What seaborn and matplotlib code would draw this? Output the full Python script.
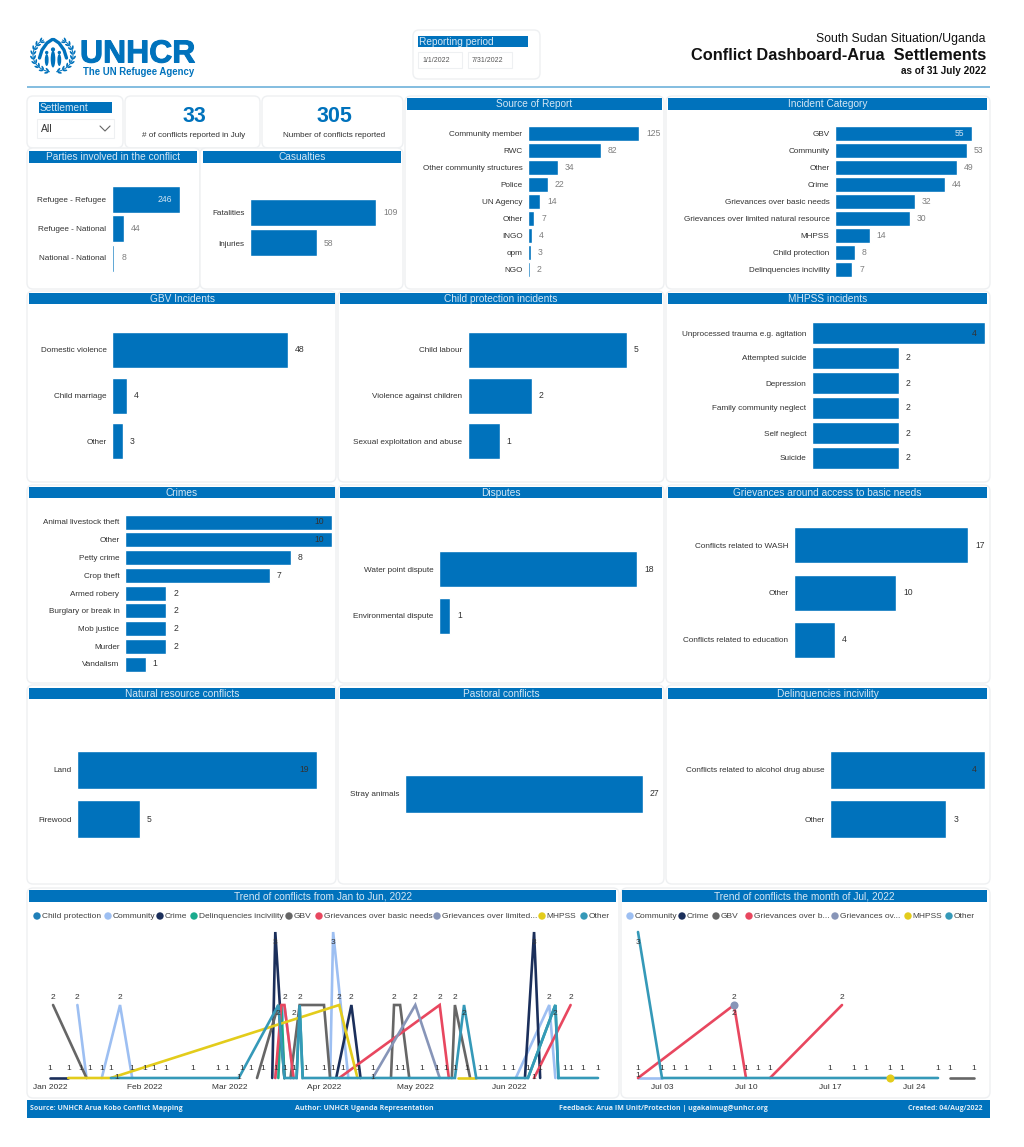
"""
plot.py
Conflict dashboard for the Arua settlements, drawn on one pixel-sized figure.
"""

import matplotlib
matplotlib.use("Agg")
import matplotlib.dates as mdates
import matplotlib.patheffects as pe
import matplotlib.pyplot as plt
import numpy as np
import pandas as pd
import seaborn as sns
from matplotlib.patches import Circle, Ellipse, FancyBboxPatch, Rectangle

sns.set_style("white")
plt.rcParams["font.family"] = ["Liberation Sans", "DejaVu Sans"]

W, H = 1024, 1147
BLUE = "#0072BC"
GREY_LABEL = "#7f7f7f"
DARK_LABEL = "#333333"
CARD_EDGE = "#eef0f2"

# bar panels
party_labels = ["Refugee - Refugee", "Refugee - National", "National - National"]
party_values = [246, 44, 8]
casualty_labels = ["Fatalities", "Injuries"]
casualty_values = [109, 58]
source_labels = ["Community member", "RWC", "Other community structures", "Police", "UN Agency",
                 "Other", "INGO", "opm", "NGO"]
source_values = [125, 82, 34, 22, 14, 7, 4, 3, 2]
incident_labels = ["GBV", "Community", "Other", "Crime", "Grievances over basic needs",
                   "Grievances over limited natural resource", "MHPSS", "Child protection",
                   "Delinquencies incivility"]
incident_values = [55, 53, 49, 44, 32, 30, 14, 8, 7]
gbv_labels = ["Domestic violence", "Child marriage", "Other"]
gbv_values = [48, 4, 3]
child_labels = ["Child labour", "Violence against children", "Sexual exploitation and abuse"]
child_values = [5, 2, 1]
mhpss_labels = ["Unprocessed trauma e.g. agitation", "Attempted suicide", "Depression",
                "Family community neglect", "Self neglect", "Suicide"]
mhpss_values = [4, 2, 2, 2, 2, 2]
crime_labels = ["Animal livestock theft", "Other", "Petty crime", "Crop theft", "Armed robery",
                "Burglary or break in", "Mob justice", "Murder", "Vandalism"]
crime_values = [10, 10, 8, 7, 2, 2, 2, 2, 1]
dispute_labels = ["Water point dispute", "Environmental dispute"]
dispute_values = [18, 1]
grievance_labels = ["Conflicts related to WASH", "Other", "Conflicts related to education"]
grievance_values = [17, 10, 4]
natural_labels = ["Land", "Firewood"]
natural_values = [19, 5]
pastoral_labels = ["Stray animals"]
pastoral_values = [27]
delinquency_labels = ["Conflicts related to alcohol drug abuse", "Other"]
delinquency_values = [4, 3]

# trend Jan-Jun, None breaks a line
h1_community = [("2022-01-10", 2), ("2022-01-13", 1), None,
                ("2022-01-18", 1), ("2022-01-24", 2), ("2022-01-28", 1), None,
                ("2022-03-16", 1), ("2022-03-19", 2), ("2022-03-22", 1), None,
                ("2022-04-03", 1), ("2022-04-04", 3), ("2022-04-09", 1), None,
                ("2022-06-03", 1), ("2022-06-14", 2), ("2022-06-16", 1)]
h1_crime = [("2022-01-01", 1), ("2022-01-07", 1), None,
            ("2022-03-15", 1), ("2022-03-16", 3), ("2022-03-19", 1), None,
            ("2022-04-05", 1), ("2022-04-10", 2), ("2022-04-13", 1), None,
            ("2022-06-06", 1), ("2022-06-09", 3), ("2022-06-11", 1)]
h1_delinquency = [("2022-03-17", 1), ("2022-03-18", 2), ("2022-03-19", 1), None,
                  ("2022-03-23", 1), ("2022-03-24", 2), ("2022-03-25", 1), None,
                  ("2022-06-07", 1), ("2022-06-16", 2), ("2022-06-17", 1)]
h1_gbv = [("2022-01-02", 2), ("2022-01-13", 1), None,
          ("2022-03-10", 1), ("2022-03-17", 2), ("2022-03-19", 1), None,
          ("2022-03-21", 1), ("2022-03-24", 2), ("2022-04-01", 2), ("2022-04-03", 1), None,
          ("2022-04-23", 1), ("2022-04-24", 2), ("2022-04-26", 2), ("2022-04-29", 1), None,
          ("2022-05-13", 1), ("2022-05-14", 2), ("2022-05-19", 1)]
h1_basic = [("2022-03-16", 1), ("2022-03-18", 2), ("2022-03-19", 2), ("2022-03-22", 1), None,
            ("2022-04-06", 1), ("2022-05-09", 2), ("2022-05-12", 1), None,
            ("2022-06-09", 1), ("2022-06-21", 2)]
h1_limited = [("2022-04-17", 1), ("2022-05-01", 2), ("2022-05-09", 1)]
h1_mhpss = [("2022-01-07", 1), ("2022-01-21", 1), ("2022-04-06", 2), ("2022-04-12", 1), None,
            ("2022-05-15", 1), ("2022-05-21", 1)]
h1_other = [("2022-01-21", 1), ("2022-03-04", 1), ("2022-03-17", 2), ("2022-03-19", 1),
            ("2022-03-23", 1), ("2022-03-24", 2), ("2022-03-25", 1), ("2022-05-14", 1),
            ("2022-05-17", 2), ("2022-05-21", 1), ("2022-06-07", 1), ("2022-06-16", 2),
            ("2022-06-17", 1), ("2022-06-30", 1)]
h1_one_dates = ["2022-01-01", "2022-01-07", "2022-01-11", "2022-01-14", "2022-01-18", "2022-01-21",
                "2022-01-28", "2022-02-01", "2022-02-04", "2022-02-08", "2022-02-17", "2022-02-25",
                "2022-02-28", "2022-03-05", "2022-03-08", "2022-03-12", "2022-03-16", "2022-03-19",
                "2022-03-22", "2022-03-26", "2022-04-01", "2022-04-04", "2022-04-07", "2022-04-12",
                "2022-04-17", "2022-04-25", "2022-04-27", "2022-05-03", "2022-05-08", "2022-05-11",
                "2022-05-14", "2022-05-18", "2022-05-22", "2022-05-24", "2022-05-30", "2022-06-02",
                "2022-06-07", "2022-06-11", "2022-06-19", "2022-06-21", "2022-06-25", "2022-06-30"]
h1_low_one_dates = ["2022-01-23", "2022-03-04", "2022-04-17", "2022-06-09"]
h1_two_dates = ["2022-01-02", "2022-01-10", "2022-01-24", "2022-03-19", "2022-03-24", "2022-04-06",
                "2022-04-10", "2022-04-24", "2022-05-01", "2022-05-09", "2022-05-14", "2022-06-14",
                "2022-06-21"]
h1_low_two_dates = ["2022-03-17", "2022-03-22", "2022-05-17", "2022-06-16"]
h1_three_dates = ["2022-03-16", "2022-04-04", "2022-06-09"]
h1_ticks = ["2022-01-01", "2022-02-01", "2022-03-01", "2022-04-01", "2022-05-01", "2022-06-01"]

# trend July
jul_community = [("2022-07-01", 1), ("2022-07-03", 1)]
jul_gbv = [("2022-07-27", 1), ("2022-07-29", 1)]
jul_basic = [("2022-07-01", 1), ("2022-07-09", 2), ("2022-07-10", 1), None,
             ("2022-07-12", 1), ("2022-07-18", 2)]
jul_other = [("2022-07-01", 3), ("2022-07-03", 1), ("2022-07-26", 1)]
jul_limited_point = [("2022-07-09", 2)]
jul_mhpss_point = [("2022-07-22", 1)]
jul_one_dates = ["2022-07-01", "2022-07-03", "2022-07-04", "2022-07-05", "2022-07-07", "2022-07-09",
                 "2022-07-10", "2022-07-11", "2022-07-12", "2022-07-17", "2022-07-19", "2022-07-20",
                 "2022-07-22", "2022-07-23", "2022-07-26", "2022-07-27", "2022-07-29"]
jul_low_one_dates = ["2022-07-01"]
jul_two_dates = ["2022-07-09", "2022-07-18"]
jul_low_two_dates = ["2022-07-09"]
jul_three_dates = ["2022-07-01"]
jul_ticks = ["2022-07-03", "2022-07-10", "2022-07-17", "2022-07-24"]

SERIES_COLORS = {
    "Child protection": "#1F7FB8",
    "Community": "#9DBFF2",
    "Crime": "#1B2F5B",
    "Delinquencies incivility": "#1AAB8E",
    "GBV": "#666666",
    "Grievances over basic needs": "#E8475F",
    "Grievances over limited natural resource": "#8795B8",
    "MHPSS": "#E3CC1B",
    "Other": "#3599B8",
}
h1_legend = ["Child protection", "Community", "Crime", "Delinquencies incivility", "GBV",
             "Grievances over basic needs", "Grievances over limited...", "MHPSS", "Other"]
h1_legend_keys = ["Child protection", "Community", "Crime", "Delinquencies incivility", "GBV",
                  "Grievances over basic needs", "Grievances over limited natural resource",
                  "MHPSS", "Other"]
h1_legend_x = [37, 108, 160, 194, 289, 319, 437, 542, 584]
jul_legend = ["Community", "Crime", "GBV", "Grievances over b...", "Grievances ov...", "MHPSS", "Other"]
jul_legend_keys = ["Community", "Crime", "GBV", "Grievances over basic needs",
                   "Grievances over limited natural resource", "MHPSS", "Other"]
jul_legend_x = [630, 682, 716, 749, 835, 908, 949]

fig = plt.figure(figsize=(W / 100, H / 100), dpi=100)
bg = fig.add_axes([0, 0, 1, 1], zorder=0)
bg.set_xlim(0, W)
bg.set_ylim(H, 0)
bg.axis("off")


def px_axes(x0, x1, y0, y1):
    ax = fig.add_axes([x0 / W, 1 - y1 / H, (x1 - x0) / W, (y1 - y0) / H], zorder=2)
    ax.patch.set_alpha(0)
    return ax


def card(x0, x1, y0, y1):
    bg.add_patch(FancyBboxPatch((x0 + 4, y0 + 4), x1 - x0 - 8, y1 - y0 - 8,
                                boxstyle="round,pad=4,rounding_size=6",
                                fc="white", ec=CARD_EDGE, lw=1, zorder=1))


def header(x0, x1, y0, y1, title, fontsize=7.3, center=True):
    bg.add_patch(Rectangle((x0, y0), x1 - x0, y1 - y0, fc=BLUE, ec="none", zorder=2))
    if center:
        bg.text((x0 + x1) / 2, (y0 + y1) / 2 + 0.3, title, color="#d5e7f4", fontsize=fontsize,
                ha="center", va="center", zorder=3)
    else:
        bg.text(x0 + 1, (y0 + y1) / 2 + 0.3, title, color="#d5e7f4", fontsize=fontsize,
                ha="left", va="center", zorder=3)


def bar_panel(labels, values, x0, x1, max_val, first, last, bar_h, inside=(), inside_color=DARK_LABEL,
              label_color=DARK_LABEL):
    """Horizontal bars; x0-x1 is the pixel run of max_val, first/last the row centres."""
    n = len(values)
    step = (last - first) / (n - 1) if n > 1 else bar_h * 1.2
    ax = px_axes(x0, x1, first - step / 2, last + step / 2)
    df = pd.DataFrame({"label": labels, "value": values})
    sns.barplot(data=df, x="value", y="label", color=BLUE, saturation=1, width=bar_h / step, ax=ax)
    ax.set_xlim(0, max_val)
    ax.set_ylim(n - 0.5, -0.5)
    ax.set_xlabel("")
    ax.set_ylabel("")
    ax.set_xticks([])
    ax.tick_params(axis="y", length=0, pad=4, labelsize=5.85, labelcolor="#333333")
    sns.despine(ax=ax, left=True, bottom=True)
    texts = ax.bar_label(ax.containers[0], padding=5, fontsize=6.2, color=label_color)
    for i in inside:
        texts[i].xyann = (-6, 0)
        texts[i].set_ha("right")
        texts[i].set_color(inside_color)
    return ax


def frame_from(points, name):
    rows = []
    seg = 0
    for p in points:
        if p is None:
            seg += 1
            continue
        rows.append({"series": name, "seg": f"{name}-{seg}", "date": pd.Timestamp(p[0]), "count": p[1]})
    return rows


def trend_panel(series, x0, x1, start, end, ticks, fmt):
    ax = px_axes(x0, x1, 932, 1078)
    rows = []
    for name, points in series:
        rows.extend(frame_from(points, name))
    df = pd.DataFrame(rows)
    for name, _ in series:
        sub = df[df["series"] == name]
        sns.lineplot(data=sub, x="date", y="count", units="seg", estimator=None, sort=False,
                     color=SERIES_COLORS[name], lw=1.9, ax=ax, legend=False, clip_on=False,
                     solid_joinstyle="miter")
    ax.set_xlim(pd.Timestamp(start), pd.Timestamp(end))
    ax.set_ylim(1, 3)
    ax.set_xlabel("")
    ax.set_ylabel("")
    ax.set_yticks([])
    ax.set_xticks(pd.to_datetime(ticks))
    ax.xaxis.set_major_formatter(mdates.DateFormatter(fmt))
    ax.tick_params(axis="x", length=0, pad=4, labelsize=6, labelcolor="#333333")
    sns.despine(ax=ax, left=True, bottom=True)
    return ax


def count_labels(ax, dates, value, dy):
    for d in dates:
        ax.annotate(str(value), (pd.Timestamp(d), value), xytext=(0, dy), textcoords="offset points",
                    ha="center", va="center", fontsize=6, color="#333333", annotation_clip=False, zorder=5)


def legend_row(names, keys, xs):
    for name, key, x in zip(names, keys, xs):
        bg.add_patch(Circle((x, 916), 3.7, fc=SERIES_COLORS[key], ec="none", zorder=3))
        bg.text(x + 4.8, 916.3, name, fontsize=6, color="#404040", va="center", ha="left", zorder=3)


def draw_emblem(cx, cy):
    """Rough UNHCR emblem: wreath, sheltering hands and three figures."""
    for sx in (-1, 1):
        t = np.radians(np.linspace(-80, 62, 40))
        bg.plot(cx + sx * 20 * np.cos(t), cy - 17 * np.sin(t), color=BLUE, lw=0.7)
        for a in np.arange(-72, 70, 16):
            r = np.radians(a)
            for off in (-1.6, 1.6):
                bg.add_patch(Ellipse((cx + sx * (20 + off) * np.cos(r), cy - (17 + off) * np.sin(r)),
                                     4.4, 1.8, angle=-sx * (a + 90) + sx * off * 18, fc=BLUE, ec="none"))
        xs = np.array([13.5, 11, 6, 0.8])
        ys = np.array([3, -5, -12, -15.5])
        bg.plot(cx + sx * xs, cy + ys, color=BLUE, lw=2.4, solid_capstyle="round")
    for dx, w, h_body, head in ((-6.3, 3.8, 12, 1.7), (0, 4.6, 17, 2.1), (6.3, 3.8, 12, 1.7)):
        bg.add_patch(Ellipse((cx + dx, cy + 5 - (h_body - 12) * 0.2), w, h_body, fc=BLUE, ec="none"))
        bg.add_patch(Circle((cx + dx, cy + 5 - h_body * 0.62), head, fc=BLUE, ec="none"))


# page header
draw_emblem(53, 55)
bg.text(80, 54.5, "UNHCR", fontsize=23, fontweight="bold", color=BLUE, ha="left", va="center",
        path_effects=[pe.withStroke(linewidth=0.7, foreground=BLUE)])
bg.text(83, 72, "The UN Refugee Agency", fontsize=6.9, fontweight="bold", color=BLUE, ha="left", va="center")
bg.text(986, 39, "South Sudan Situation/Uganda", fontsize=8.8, color="#111111", ha="right", va="center")
bg.text(986, 55, "Conflict Dashboard-Arua  Settlements", fontsize=11.75, fontweight="bold", color="#111111",
        ha="right", va="center")
bg.text(986, 71.5, "as of 31 July 2022", fontsize=7.2, fontweight="bold", color="#111111", ha="right", va="center")
bg.add_patch(Rectangle((27, 86.2), 963, 1.6, fc="#86BEE0", ec="none"))

card(413, 540, 30, 79)
header(418, 528, 36, 47, "Reporting period", center=False)
for x0, x1, txt in ((418, 462, "1/1/2022"), (468, 512, "7/31/2022")):
    bg.add_patch(Rectangle((x0, 52), x1 - x0, 16, fc="white", ec=CARD_EDGE, lw=0.8))
    bg.text(x0 + 4, 60, txt, fontsize=5, color="#555555", va="center")

# top-left tiles
card(27, 123, 96, 148)
header(39, 112, 102, 113, "Settlement", center=False)
bg.add_patch(Rectangle((37, 119), 77, 19, fc="white", ec=CARD_EDGE, lw=0.8))
bg.text(41, 129, "All", fontsize=7.4, color="#333333", va="center")
bg.plot([100, 105, 110], [126, 131, 126], color="#666666", lw=0.8)
card(125, 260, 96, 148)
bg.text(194, 117, "33", fontsize=15.5, fontweight="bold", color=BLUE, ha="center", va="center")
bg.text(194, 135.5, "# of conflicts reported in July", fontsize=5.9, color="#333333", ha="center", va="center")
card(262, 403, 96, 148)
bg.text(334, 117, "305", fontsize=15.5, fontweight="bold", color=BLUE, ha="center", va="center")
bg.text(334, 135.5, "Number of conflicts reported", fontsize=5.9, color="#333333", ha="center", va="center")

# panel frames and titles
for x0, x1, y0, y1 in ((27, 200, 148, 289), (200, 403, 148, 289), (405, 664, 96, 289), (666, 990, 96, 289),
                       (27, 336, 291, 482), (338, 664, 291, 482), (666, 990, 291, 482),
                       (27, 336, 485, 683), (338, 664, 485, 683), (666, 990, 485, 683),
                       (27, 336, 685, 884), (338, 664, 685, 884), (666, 990, 685, 884),
                       (27, 619, 888, 1098), (621, 990, 888, 1098)):
    card(x0, x1, y0, y1)

header(29, 197, 151, 163, "Parties involved in the conflict")
header(203, 401, 151, 163, "Casualties")
header(407, 662, 98, 110, "Source of Report")
header(668, 987, 98, 110, "Incident Category")
header(29, 335, 293, 304, "GBV Incidents")
header(340, 662, 293, 304, "Child protection incidents")
header(668, 987, 293, 304, "MHPSS incidents")
header(29, 335, 487, 498, "Crimes")
header(340, 662, 487, 498, "Disputes")
header(668, 987, 487, 498, "Grievances around access to basic needs")
header(29, 335, 688, 699, "Natural resource conflicts")
header(340, 662, 688, 699, "Pastoral conflicts")
header(668, 987, 688, 699, "Delinquencies incivility")
header(29, 616, 890, 902, "Trend of conflicts from Jan to Jun, 2022")
header(622, 987, 890, 902, "Trend of conflicts the month of Jul, 2022")

# bars
bar_panel(party_labels, party_values, 112, 180, 246, 199, 258, 27, inside=[0], inside_color="#cfe3f2", label_color=GREY_LABEL)
bar_panel(casualty_labels, casualty_values, 250, 376, 109, 213, 243, 27, label_color=GREY_LABEL)
bar_panel(source_labels, source_values, 528, 639, 125, 133.5, 269, 15, label_color=GREY_LABEL)
bar_panel(incident_labels, incident_values, 835, 972, 55, 133, 269.5, 15, inside=[0], inside_color="#cfe3f2", label_color=GREY_LABEL)
bar_panel(gbv_labels, gbv_values, 112, 288, 48, 350, 441, 36)
bar_panel(child_labels, child_values, 468, 627, 5, 350, 441, 36)
bar_panel(mhpss_labels, mhpss_values, 812, 985, 4, 333, 458, 22, inside=[0])
bar_panel(crime_labels, crime_values, 125, 332, 10, 522, 664, 15, inside=[0, 1])
bar_panel(dispute_labels, dispute_values, 439, 637, 18, 569, 616, 36)
bar_panel(grievance_labels, grievance_values, 794, 968, 17, 545, 640, 36)
bar_panel(natural_labels, natural_values, 77, 317, 19, 770, 819, 38, inside=[0])
bar_panel(pastoral_labels, pastoral_values, 405, 643, 27, 794, 794, 38)
bar_panel(delinquency_labels, delinquency_values, 830, 985, 4, 770, 819, 38, inside=[0])

# trends
legend_row(h1_legend, h1_legend_keys, h1_legend_x)
legend_row(jul_legend, jul_legend_keys, jul_legend_x)

ax_h1 = trend_panel([("Community", h1_community), ("Crime", h1_crime), ("Delinquencies incivility", h1_delinquency),
                     ("GBV", h1_gbv), ("Grievances over basic needs", h1_basic),
                     ("Grievances over limited natural resource", h1_limited), ("MHPSS", h1_mhpss),
                     ("Other", h1_other)],
                    50, 598, "2022-01-01", "2022-06-30", h1_ticks, "%b %Y")
count_labels(ax_h1, h1_one_dates, 1, 6.6)
count_labels(ax_h1, h1_low_one_dates, 1, 0.5)
count_labels(ax_h1, h1_two_dates, 2, 5.4)
count_labels(ax_h1, h1_low_two_dates, 2, -6)
count_labels(ax_h1, h1_three_dates, 3, -7.5)

ax_jul = trend_panel([("Community", jul_community), ("GBV", jul_gbv), ("Grievances over basic needs", jul_basic),
                      ("Other", jul_other)],
                     638, 974, "2022-07-01", "2022-07-29", jul_ticks, "%b %d")
for name, points in (("Grievances over limited natural resource", jul_limited_point), ("MHPSS", jul_mhpss_point)):
    pts = pd.DataFrame(frame_from(points, name))
    sns.scatterplot(data=pts, x="date", y="count", color=SERIES_COLORS[name], s=34, linewidth=0,
                    ax=ax_jul, clip_on=False, legend=False, zorder=4)
ax_jul.set_xlabel("")
ax_jul.set_ylabel("")
count_labels(ax_jul, jul_one_dates, 1, 6.6)
count_labels(ax_jul, jul_low_one_dates, 1, 1.5)
count_labels(ax_jul, jul_two_dates, 2, 5.4)
count_labels(ax_jul, jul_low_two_dates, 2, -6)
count_labels(ax_jul, jul_three_dates, 3, -7.5)

# footer
bg.add_patch(Rectangle((27, 1100), 963, 17.5, fc=BLUE, ec="none"))
for x, ha, txt in ((30, "left", "Source: UNHCR Arua Kobo Conflict Mapping"),
                   (295, "left", "Author: UNHCR Uganda Representation"),
                   (559, "left", "Feedback: Arua IM Unit/Protection | ugakaimug@unhcr.org"),
                   (982, "right", "Created: 04/Aug/2022")):
    bg.text(x, 1109, txt, fontsize=5, fontweight="bold", color="#dcebf6", ha=ha, va="center",
            family=["Open Sans", "DejaVu Sans"])

fig.savefig("out.png", dpi=100, facecolor="white")
plt.close(fig)
